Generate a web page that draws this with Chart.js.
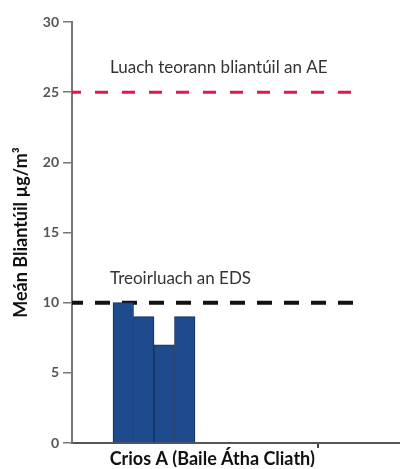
<!DOCTYPE html>
<html>
<head>
<meta charset="utf-8">
<script src="https://cdn.jsdelivr.net/npm/chart.js@4"></script>
<style>
  html, body { margin: 0; padding: 0; background: #fff; }
  #wrap { width: 400px; height: 469px; }
</style>
</head>
<body>
<div id="wrap"><canvas id="chart"></canvas></div>
<script>
// slots along the x axis, bars sit in slots 2..5
var slotLabels = ['', '', '', '', '', '', 'Crios A (Baile Átha Cliath)', '', '', '', '', '', '', '', '', ''];
var barValues = [10, 9, 7, 9];
var barFirstSlot = 2;

var limitValues = [25, 10];
var limitLabels = ['Luach teorann bliantúil an AE', 'Treoirluach an EDS'];
var limitColors = ['#e2174c', '#111111'];

var yTicks = [0, 5, 10, 15, 20, 25, 30];

var barData = slotLabels.map(function (l, i) {
  var k = i - barFirstSlot;
  return (k >= 0 && k < barValues.length) ? barValues[k] : null;
});

var limitSets = limitValues.map(function (v, i) {
  return {
    type: 'line',
    xAxisID: 'xl',
    data: [{ x: 0, y: v }, { x: i == 0 ? 281 : 284, y: v }],
    borderColor: limitColors[i],
    borderWidth: i == 0 ? 3 : 4,
    borderDash: i == 0 ? [13, 14] : [15, 12],
    borderDashOffset: 4,
    pointRadius: 0,
    fill: false
  };
});

var limitText = {
  id: 'limitText',
  afterDatasetsDraw: function (chart) {
    var ctx = chart.ctx;
    var y = chart.scales.y;
    ctx.save();
    ctx.font = '17px Lato';
    ctx.fillStyle = '#333';
    ctx.textBaseline = 'alphabetic';
    limitLabels.forEach(function (t, i) {
      ctx.fillText(t, 110, y.getPixelForValue(limitValues[i]) - 19);
    });
    ctx.restore();
  }
};

new Chart('chart', {
  data: {
    labels: slotLabels,
    datasets: [{
      type: 'bar',
      data: barData,
      grouped: false,
      backgroundColor: '#1e4b8d',
      borderColor: '#142f5c',
      borderWidth: 1,
      barPercentage: 1,
      categoryPercentage: 1
    }].concat(limitSets)
  },
  options: {
    responsive: true,
    maintainAspectRatio: false,
    animation: false,
    layout: { padding: { top: 22, left: 10, right: 0, bottom: 2 } },
    plugins: { legend: { display: false }, tooltip: { enabled: false } },
    scales: {
      x: {
        type: 'category',
        afterFit: function (s) { s.height = 24; },
        border: { color: '#555', width: 2 },
        grid: {
          drawOnChartArea: false,
          tickLength: 5,
          color: function (c) { return c.index == 12 ? '#444' : 'rgba(0,0,0,0)'; },
          lineWidth: 2
        },
        ticks: {
          autoSkip: false,
          maxRotation: 0,
          labelOffset: 7,
          padding: 0,
          color: '#111',
          font: { family: 'Lato', size: 18, weight: 'bold' }
        }
      },
      xl: {
        type: 'linear',
        display: false,
        min: 0,
        max: 328
      },
      y: {
        min: 0,
        max: 30,
        afterFit: function (s) { s.width = 62; },
        afterBuildTicks: function (s) { s.ticks = yTicks.map(function (v) { return { value: v }; }); },
        border: { color: '#777', width: 2 },
        grid: { drawOnChartArea: false, tickLength: 9, color: '#777', lineWidth: 1.5 },
        ticks: {
          padding: 4,
          color: '#555',
          font: { family: 'Lato', size: 14, weight: 'bold' }
        },
        title: {
          display: true,
          text: 'Meán Bliantúil µg/m³',
          color: '#111',
          padding: 0,
          font: { family: 'Lato', size: 18, weight: 'bold' }
        }
      }
    }
  },
  plugins: [limitText]
});
</script>
</body>
</html>
